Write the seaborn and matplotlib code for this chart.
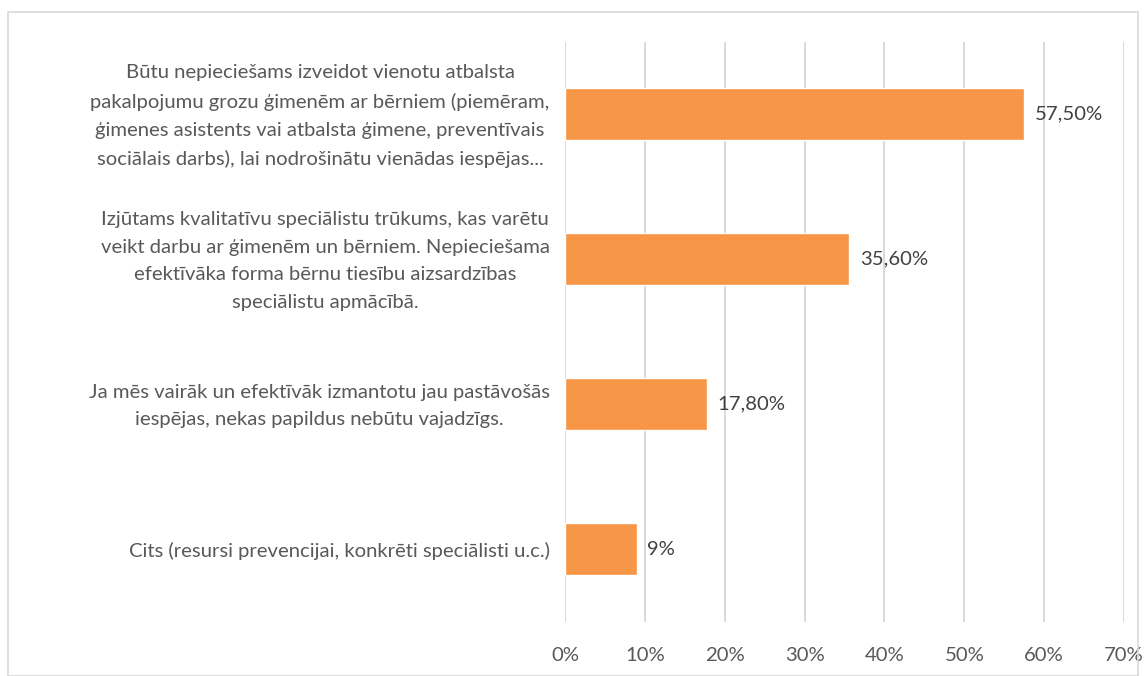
import matplotlib
matplotlib.use("Agg")
import matplotlib.pyplot as plt
import matplotlib.transforms as mtransforms
import seaborn as sns
import pandas as pd
from matplotlib.patches import Rectangle
from matplotlib.ticker import PercentFormatter

sns.set_theme(style="white")
plt.rcParams['font.family'] = ['Lato', 'DejaVu Sans']

# Data
categories = [
    "Būtu nepieciešams izveidot vienotu atbalsta\n"
    "pakalpojumu grozu ģimenēm ar bērniem (piemēram,\n"
    "ģimenes asistents vai atbalsta ģimene, preventīvais\n"
    "sociālais darbs), lai nodrošinātu vienādas iespējas...",
    "Izjūtams kvalitatīvu speciālistu trūkums, kas varētu\n"
    "veikt darbu ar ģimenēm un bērniem. Nepieciešama\n"
    "efektīvāka forma bērnu tiesību aizsardzības\n"
    "speciālistu apmācībā.",
    "Ja mēs vairāk un efektīvāk izmantotu jau pastāvošās\n"
    "iespējas, nekas papildus nebūtu vajadzīgs.",
    "Cits (resursi prevencijai, konkrēti speciālisti u.c.)",
]
values = [57.5, 35.6, 17.8, 9.0]
value_labels = ["57,50%", "35,60%", "17,80%", "9%"]

df = pd.DataFrame({"cat": categories, "val": values})

fig = plt.figure(figsize=(11.48, 6.76), dpi=100)
ax = fig.add_axes([0.4922, 0.0806, 0.4869, 0.858])

sns.barplot(data=df, x="val", y="cat", orient="h", color="#F79646",
            width=0.36, saturation=1, ax=ax, zorder=3)

text_color = "#595959"
fs = 14.6
ax.set_xlim(0, 70)
ax.set_xticks(range(0, 71, 10))
ax.xaxis.set_major_formatter(PercentFormatter(decimals=0))
ax.grid(axis="x", color="#D9D9D9", linewidth=1.4, zorder=0)
ax.set_axisbelow(True)
for s in ax.spines.values():
    s.set_visible(False)
ax.set_xlabel("")
ax.set_ylabel("")
ax.tick_params(axis="x", length=0, pad=18, labelsize=fs, labelcolor=text_color)
ax.tick_params(axis="y", length=0, pad=11, labelsize=fs, labelcolor=text_color)
for lbl in ax.get_yticklabels():
    lbl.set_multialignment("center")
    lbl.set_linespacing(1.76)
    # nudge multi-line labels up a little so they sit centred on the bar
    if "\n" in lbl.get_text():
        shift = mtransforms.ScaledTranslation(0, 5 / 100, fig.dpi_scale_trans)
        lbl.set_transform(lbl.get_transform() + shift)

for i, (v, t) in enumerate(zip(values, value_labels)):
    ax.text(v + 1.3, i, t, va="center", ha="left", fontsize=fs, color="#404040")

fig.patches.append(Rectangle((8 / 1148, 0.0), 1130 / 1148, 1 - 12 / 676,
                             transform=fig.transFigure, fill=False,
                             edgecolor="#D9D9D9", linewidth=1.2))

fig.savefig("out.png", dpi=100)
